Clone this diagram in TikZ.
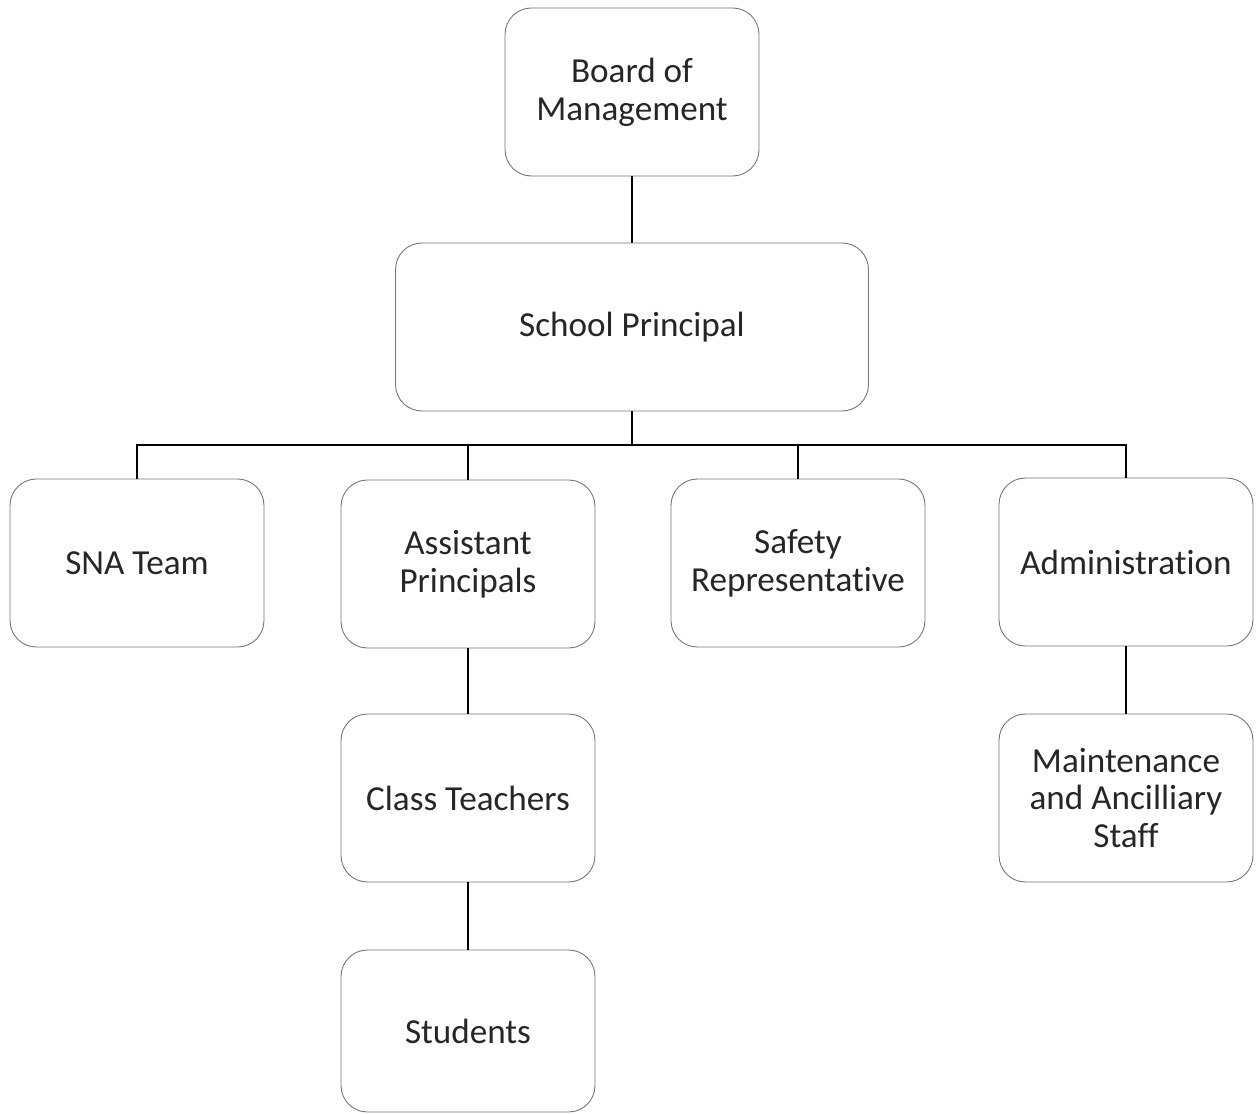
\documentclass[tikz,border=0pt]{standalone}
\usepackage{fontspec}
\setmainfont{Carlito}[Ligatures=CommonOff]
\usetikzlibrary{positioning}

\begin{document}
\begin{tikzpicture}[x=0.02cm, y=-0.02cm]
            \tikzset{every node/.style={rounded corners=15pt, align=center, text=black!85},
                    orgbox/.style={draw=black!55, line width=0.5pt, minimum width=5.08cm, minimum height=3.36cm,
                                   font=\fontsize{20}{21.5}\selectfont},
                    link/.style={draw=black, line width=1.2pt}}
            \useasboundingbox (0, 0) rectangle (1260, 1114);
            \node[orgbox] (board) at (632, 92) {Board of\\Management};
            \node[orgbox, minimum width=9.46cm] (principal) at (632, 327) {School Principal};
            \node[orgbox] (sna) at (137, 563) {SNA Team};
            \node[orgbox] (assist) at (468, 564) {Assistant\\Principals};
            \node[orgbox] (safety) at (798, 563) {Safety\\Representative};
            \node[orgbox] (admin) at (1126, 562) {Administration};
            \node[orgbox] (teachers) at (468, 798) {Class Teachers};
            \node[orgbox] (maint) at (1126, 798) {Maintenance\\and Ancilliary\\Staff};
            \node[orgbox, minimum height=3.24cm] (students) at (468, 1031) {Students};
            \coordinate (bus) at (632, 445);
            \path[link] (board) -- (principal);
            \path[link] (principal) -- (bus);
            \path[link] (sna.north) |- (bus) -| (admin.north);
            \path[link] (assist.north) -- (assist.north |- bus);
            \path[link] (safety.north) -- (safety.north |- bus);
            \path[link] (assist) -- (teachers);
            \path[link] (teachers) -- (students);
            \path[link] (admin) -- (maint);
        \end{tikzpicture}
\end{document}
